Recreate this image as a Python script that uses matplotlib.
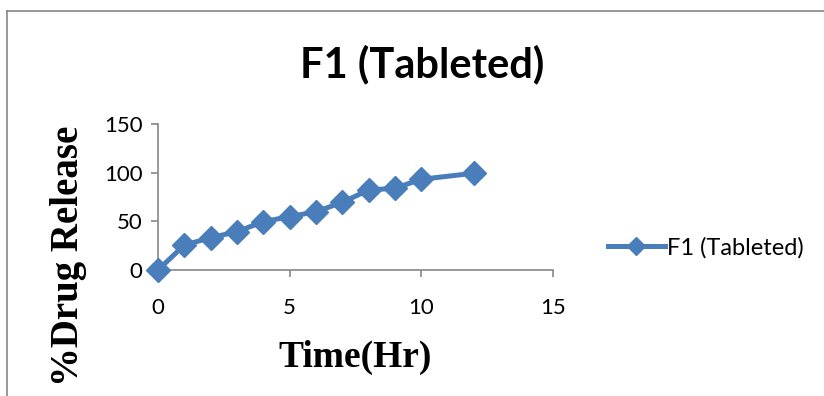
import matplotlib
matplotlib.use("Agg")
import matplotlib.pyplot as plt
from matplotlib.lines import Line2D

time_hr = [0, 1, 2, 3, 4, 5, 6, 7, 8, 9, 10, 12]
release = [0, 25.7, 33.2, 39.4, 49.7, 54.8, 59.9, 69.5, 82.2, 84.0, 93.2, 99.4]
series_name = "F1 (Tableted)"

BLUE = "#4A7EBB"
GREY = "#868686"
SANS = ["Lato", "DejaVu Sans"]
SERIF = ["Liberation Serif", "DejaVu Serif"]


def main():
    fig = plt.figure(figsize=(8.24, 3.96), dpi=100)
    ax = fig.add_axes([0.1917, 0.318, 0.4793, 0.369])

    ax.plot(time_hr, release, color=BLUE, lw=3.6, marker="D", ms=12,
            label=series_name, clip_on=False, zorder=3)

    ax.set_xlim(0, 15)
    ax.set_ylim(0, 150)
    ax.set_xticks([0, 5, 10, 15])
    ax.set_yticks([0, 50, 100, 150])
    for side in ("top", "right"):
        ax.spines[side].set_visible(False)
    for side in ("left", "bottom"):
        ax.spines[side].set_color(GREY)
        ax.spines[side].set_linewidth(1.2)
    ax.tick_params(axis="both", direction="out", length=5, width=1.2,
                   color=GREY, labelsize=16, labelcolor="black")
    ax.tick_params(axis="x", pad=15)
    ax.tick_params(axis="y", pad=6)
    for lab in ax.get_xticklabels() + ax.get_yticklabels():
        lab.set_family(SANS)

    ax.set_xlabel("Time(Hr)", family=SERIF, fontweight="bold", fontsize=27,
                  labelpad=16)
    fig.text(0.083, 0.355, "%Drug Release", family=SERIF, fontweight="bold",
             fontsize=28, rotation=90, ha="center", va="center")
    fig.text(0.512, 0.838, series_name, family=SANS, fontweight="bold",
             fontsize=30, ha="center", va="center")

    fig.legend(loc="center left", bbox_to_anchor=(0.712, 0.375),
               frameon=False, prop={"family": SANS, "size": 17},
               handlelength=2.4, handletextpad=0.1, markerscale=0.75)

    # chart-area border (only top and left edges visible)
    fig.add_artist(Line2D([0.0085, 0.0085], [0, 1 - 11 / 396],
                          transform=fig.transFigure, color=GREY, lw=1.2))
    fig.add_artist(Line2D([0.0085, 1], [1 - 11 / 396, 1 - 11 / 396],
                          transform=fig.transFigure, color=GREY, lw=1.2))

    fig.savefig("out.png", dpi=100)


if __name__ == "__main__":
    main()
